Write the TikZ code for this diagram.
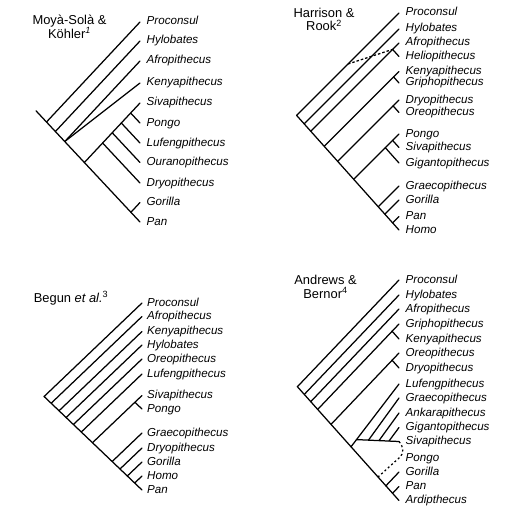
\documentclass[tikz,border=0pt]{standalone}
\usepackage{fontspec}
\setmainfont{Liberation Sans}
\usetikzlibrary{positioning}

\tikzset{
  branch/.style={black, line width=1.25pt, line cap=round},
  taxon/.style={font=\fontsize{11.6}{13}\selectfont\itshape, inner sep=0pt, text height=8.5pt, text depth=2.5pt, anchor=west},
  authors/.style={font=\fontsize{12.9}{13.3}\selectfont, align=center, inner sep=0pt},
  unsure/.style={branch, line cap=butt, dash pattern=on 2.5pt off 2pt},
}

\begin{document}
\begin{tikzpicture}[x=1pt,y=-1pt,node distance=6.5pt]
\useasboundingbox (0,0) rectangle (528,532);

\node[authors] (t-moya) at (69.5,26.7) {Moyà-Solà \&\\Köhler\textsuperscript{\itshape 1}};
\foreach \nm/\yy/\txt in {pro/22/Proconsul, hyl/41/Hylobates, afr/61/Afropithecus, ken/83/Kenyapithecus, siv/103/Sivapithecus, pon/123/Pongo, luf/143/Lufengpithecus, our/162.5/Ouranopithecus, dry/183/Dryopithecus, gor/202.5/Gorilla, pan/222/Pan}{
  \coordinate (m-\nm) at (140,\yy);
  \node[taxon, right=of m-\nm] (m-\nm-l) {\txt};
}
\coordinate (m0) at (36,110.8);
\coordinate (m1) at (46.5,122);
\coordinate (m2) at (55.4,131.5);
\coordinate (m3) at (64.8,141.5);
\coordinate (m4) at (84.4,162.5);
\coordinate (m5) at (102.6,143);
\coordinate (m6) at (112.2,132.75);
\coordinate (m7) at (121.3,123);
\coordinate (m8) at (130.65,113);
\coordinate (m9) at (130.9,212.3);
\draw[branch] (m0) -- (m-pan);
\draw[branch] (m1) -- (m-pro);
\draw[branch] (m2) -- (m-hyl);
\draw[branch] (m3) -- (m-afr);
\draw[branch] (m3) -- (m-ken);
\draw[branch] (m4) -- (m-siv);
\draw[branch] (m5) -- (m-dry);
\draw[branch] (m6) -- (m-our);
\draw[branch] (m7) -- (m-luf);
\draw[branch] (m8) -- (m-pon);
\draw[branch] (m9) -- (m-gor);

\node[authors] (t-harrison) at (324,19.3) {Harrison \&\\Rook\textsuperscript{2}};
\foreach \nm/\yy/\txt in {pro/13/Proconsul, hyl/29/Hylobates, afr/43/Afropithecus, hel/56.5/Heliopithecus, ken/71.5/Kenyapithecus, gri/83/Griphopithecus, dry/100/Dryopithecus, ore/112.5/Oreopithecus, pon/134/Pongo, siv/147.5/Sivapithecus, gig/163/Gigantopithecus, gra/186/Graecopithecus, gor/200/Gorilla, pan/216.5/Pan, hom/230/Homo}{
  \coordinate (h-\nm) at (399,\yy);
  \node[taxon, right=of h-\nm] (h-\nm-l) {\txt};
}
\coordinate (h1) at (296.6,115.4);
\coordinate (h2) at (304.2,123.8);
\coordinate (h3) at (310.8,131.2);
\coordinate (h3a) at (392.6,49.4);
\coordinate (h4) at (324.2,146.3);
\coordinate (h4a) at (393.6,76.9);
\coordinate (h5) at (337.7,161.3);
\coordinate (h5a) at (393.1,105.9);
\coordinate (h6) at (353.7,179.3);
\coordinate (h6a) at (385.3,147.7);
\coordinate (h6b) at (392.6,140.4);
\coordinate (h7) at (378.25,206.75);
\coordinate (h8) at (384.85,214.15);
\coordinate (h9) at (392.6,222.9);
\coordinate (hd) at (348,64);
\draw[branch] (h1) -- (h-hom);
\draw[branch] (h1) -- (h-pro);
\draw[branch] (h2) -- (h-hyl);
\draw[branch] (h3) -- (h-afr);
\draw[branch] (h3a) -- (h-hel);
\draw[branch] (h4) -- (h-ken);
\draw[branch] (h4a) -- (h-gri);
\draw[branch] (h5) -- (h-dry);
\draw[branch] (h5a) -- (h-ore);
\draw[branch] (h6) -- (h-pon);
\draw[branch] (h6a) -- (h-gig);
\draw[branch] (h6b) -- (h-siv);
\draw[branch] (h7) -- (h-gra);
\draw[branch] (h8) -- (h-gor);
\draw[branch] (h9) -- (h-pan);
\draw[unsure] (hd) -- (h3a);

\node[authors] (t-begun) at (71,298.3) {Begun \textit{et al.}\textsuperscript{3}};
\foreach \nm/\yy/\txt in {pro/303/Proconsul, afr/316.5/Afropithecus, ken/331.5/Kenyapithecus, hyl/345/Hylobates, ore/359/Oreopithecus, luf/374/Lufengpithecus, siv/395.5/Sivapithecus, pon/409/Pongo, gra/433/Graecopithecus, dry/448/Dryopithecus, gor/462/Gorilla, hom/476/Homo, pan/490/Pan}{
  \coordinate (b-\nm) at (142,\yy);
  \node[taxon, right=5pt of b-\nm] (b-\nm-l) {\txt};
}
\coordinate (b1) at (44.1,396.5);
\coordinate (b2) at (51.2,403.2);
\coordinate (b3) at (59,410.8);
\coordinate (b4) at (66.1,417.5);
\coordinate (b5) at (73.4,424.5);
\coordinate (b6) at (81.3,432);
\coordinate (b7) at (92.5,442.7);
\coordinate (b7a) at (134.9,402.25);
\coordinate (b8) at (112.2,461.5);
\coordinate (b9) at (120,469);
\coordinate (b10) at (127.3,476);
\coordinate (b11) at (134.7,483);
\draw[branch] (b1) -- (b-pan);
\draw[branch] (b1) -- (b-pro);
\draw[branch] (b2) -- (b-afr);
\draw[branch] (b3) -- (b-ken);
\draw[branch] (b4) -- (b-hyl);
\draw[branch] (b5) -- (b-ore);
\draw[branch] (b6) -- (b-luf);
\draw[branch] (b7) -- (b-siv);
\draw[branch] (b7a) -- (b-pon);
\draw[branch] (b8) -- (b-gra);
\draw[branch] (b9) -- (b-dry);
\draw[branch] (b10) -- (b-gor);
\draw[branch] (b11) -- (b-hom);

\node[authors] (t-andrews) at (325.5,287) {Andrews \&\\Bernor\textsuperscript{4}};
\foreach \nm/\yy/\txt in {pro/280/Proconsul, hyl/295/Hylobates, afr/309/Afropithecus, gri/324/Griphopithecus, ken/339/Kenyapithecus, ore/353/Oreopithecus, dry/368/Dryopithecus, luf/384/Lufengpithecus, gra/398/Graecopithecus, ank/413/Ankarapithecus, gig/427.5/Gigantopithecus, siv/441.5/Sivapithecus, pon/458/Pongo, gor/472/Gorilla, pan/486.5/Pan, ard/500.5/Ardipthecus}{
  \coordinate (a-\nm) at (399,\yy);
  \node[taxon, right=of a-\nm] (a-\nm-l) {\txt};
}
\coordinate (a1) at (297.4,386.7);
\coordinate (a2) at (304.3,394.4);
\coordinate (a3) at (310.8,401.6);
\coordinate (a4) at (317.7,409.4);
\coordinate (a4a) at (392.1,331.2);
\coordinate (a5) at (331,424.4);
\coordinate (a5a) at (392.1,360.2);
\coordinate (a6) at (351,446.8);
\coordinate (a6a) at (356.5,439.6);
\coordinate (a6b) at (368.5,440.1);
\coordinate (a6c) at (379,440.6);
\coordinate (a6d) at (389,441);
\coordinate (a7) at (378,477);
\coordinate (a8) at (385.9,485.8);
\coordinate (a9) at (392.55,493.3);
\draw[branch] (a1) -- (a-ard);
\draw[branch] (a1) -- (a-pro);
\draw[branch] (a2) -- (a-hyl);
\draw[branch] (a3) -- (a-afr);
\draw[branch] (a4) -- (a-gri);
\draw[branch] (a4a) -- (a-ken);
\draw[branch] (a5) -- (a-ore);
\draw[branch] (a5a) -- (a-dry);
\draw[branch] (a6) -- (a-luf);
\draw[branch] (a6a) -- (a-siv);
\draw[branch] (a6b) -- (a-gra);
\draw[branch] (a6c) -- (a-ank);
\draw[branch] (a6d) -- (a-gig);
\draw[branch] (a8) -- (a-gor);
\draw[branch] (a9) -- (a-pan);
\draw[unsure, dash pattern=on 2pt off 2.5pt] (a-siv) .. controls (404,447) and (404,454) .. (a-pon) -- (a7);
\end{tikzpicture}
\end{document}
